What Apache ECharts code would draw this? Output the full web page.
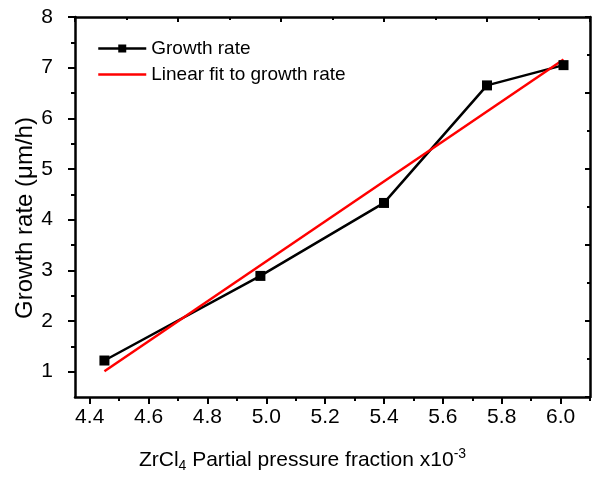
<!DOCTYPE html>
<html>
<head>
<meta charset="utf-8">
<script src="https://cdn.jsdelivr.net/npm/echarts@6/dist/echarts.min.js"></script>
<style>html,body{margin:0;padding:0;background:#fff;}#c{width:597px;height:477px;}</style>
</head>
<body>
<div id="c"></div>
<script>
// Data
const pressure = [4.45, 4.98, 5.40, 5.75, 6.01];
const growthRate = [1.22, 2.89, 4.33, 6.65, 7.05];
const fitX = [4.45, 6.01];
const fitY = [1.01, 7.16];
const xTicks = [4.4, 4.6, 4.8, 5.0, 5.2, 5.4, 5.6, 5.8, 6.0];
const xMinorTicks = [4.5, 4.7, 4.9, 5.1, 5.3, 5.5, 5.7, 5.9, 6.1];
const yTicks = [1, 2, 3, 4, 5, 6, 7, 8];
const yMinorTicks = [1.5, 2.5, 3.5, 4.5, 5.5, 6.5, 7.5];
const seriesNames = ['Growth rate', 'Linear fit to growth rate'];

const FONT = 'Liberation Sans, Arial, sans-serif';
const chart = echarts.init(document.getElementById('c'), null, {renderer: 'canvas'});

const lineStyleAxis = {color: '#000', width: 2.5};
const option = {
  animation: false,
  backgroundColor: '#fff',
  grid: {left: 75, right: 7, top: 17, bottom: 80, containLabel: false, outerBoundsMode: 'none'},
  legend: {
    left: 92, top: 34, orient: 'vertical',
    itemWidth: 48, itemHeight: 10, itemGap: 7,
    lineStyle: {width: 2.5},
    textStyle: {fontFamily: FONT, fontSize: 19, color: '#000'},
    data: [
      {name: seriesNames[0]},
      {name: seriesNames[1], itemStyle: {opacity: 0}}
    ]
  },
  xAxis: [
    {
      type: 'value', position: 'bottom', min: 4.35, max: 6.1,
      axisLine: {show: true, onZero: false, lineStyle: lineStyleAxis},
      axisTick: {show: true, customValues: xTicks, length: 7, lineStyle: {color: '#000', width: 2}},
      axisLabel: {customValues: xTicks, formatter: v => v.toFixed(1), fontFamily: FONT, fontSize: 21, color: '#000', margin: 10},
      splitLine: {show: false},
      name: 'ZrCl{sub|4} Partial pressure fraction x10{sup|-3}',
      nameLocation: 'middle', nameGap: 50, nameMoveOverlap: false,
      nameTextStyle: {fontFamily: FONT, fontSize: 21, color: '#000', padding: [0, 60, 0, 0],
        rich: {sub: {fontFamily: FONT, fontSize: 14, color: '#000', verticalAlign: 'bottom', padding: [12, 0, 0, 0]},
               sup: {fontFamily: FONT, fontSize: 14, color: '#000', verticalAlign: 'top', padding: [0, 0, 12, 0]}}}
    },
    {
      type: 'value', position: 'bottom', min: 4.35, max: 6.1,
      axisLine: {show: false, onZero: false},
      axisTick: {show: true, customValues: xMinorTicks, length: 4, lineStyle: {color: '#000', width: 2}},
      axisLabel: {show: false}, splitLine: {show: false}
    },
    {
      type: 'value', position: 'top', min: 0, max: 10, interval: 2,
      axisLine: {show: true, onZero: false, lineStyle: lineStyleAxis},
      axisTick: {show: true, inside: true, length: 5, lineStyle: {color: '#000', width: 2}},
      minorTick: {show: true, splitNumber: 2, length: 3, lineStyle: {color: '#000', width: 2}},
      axisLabel: {show: false}, splitLine: {show: false}
    }
  ],
  yAxis: [
    {
      type: 'value', position: 'left', min: 0.5, max: 8,
      axisLine: {show: true, onZero: false, lineStyle: lineStyleAxis},
      axisTick: {show: true, customValues: yTicks, length: 7, lineStyle: {color: '#000', width: 2}},
      axisLabel: {customValues: yTicks, fontFamily: FONT, fontSize: 21, color: '#000', margin: 22},
      splitLine: {show: false},
      name: 'Growth rate (\u03bcm/h)', nameLocation: 'middle', nameGap: 38, nameRotate: 90, nameMoveOverlap: false,
      nameTextStyle: {fontFamily: FONT, fontSize: 24, color: '#000', padding: [0, 22, 0, 0]}
    },
    {
      type: 'value', position: 'left', min: 0.5, max: 8,
      axisLine: {show: false, onZero: false},
      axisTick: {show: true, customValues: yMinorTicks, length: 4, lineStyle: {color: '#000', width: 2}},
      axisLabel: {show: false}, splitLine: {show: false}
    },
    {
      type: 'value', position: 'right', min: 0, max: 10, interval: 2,
      axisLine: {show: true, onZero: false, lineStyle: lineStyleAxis},
      axisTick: {show: true, inside: true, length: 5, lineStyle: {color: '#000', width: 2}},
      minorTick: {show: true, splitNumber: 2, length: 3, lineStyle: {color: '#000', width: 2}},
      axisLabel: {show: false}, splitLine: {show: false}
    }
  ],
  series: [
    {
      name: seriesNames[0], type: 'line', xAxisIndex: 0, yAxisIndex: 0,
      data: pressure.map((x, i) => [x, growthRate[i]]),
      symbol: 'rect', symbolSize: 10,
      itemStyle: {color: '#000'},
      lineStyle: {color: '#000', width: 2.5}
    },
    {
      name: seriesNames[1], type: 'line', xAxisIndex: 0, yAxisIndex: 0,
      data: fitX.map((x, i) => [x, fitY[i]]),
      showSymbol: false, symbol: 'none',
      itemStyle: {color: '#ff0000'},
      lineStyle: {color: '#ff0000', width: 2.5}
    }
  ]
};
chart.setOption(option);
</script>
</body>
</html>
